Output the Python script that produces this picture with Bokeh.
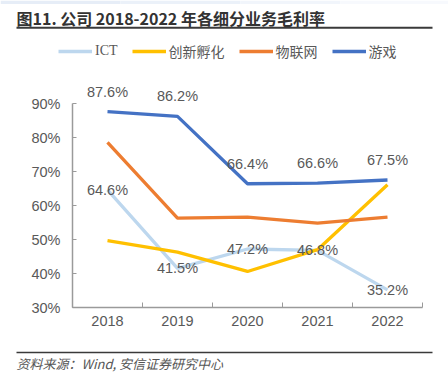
from bokeh.plotting import figure
from bokeh.models import (ColumnDataSource, LabelSet, Label, Range1d, FixedTicker,
                          PrintfTickFormatter, Legend, LegendItem, BoxAnnotation)
from bokeh.core.properties import value
from bokeh.embed import file_html
from bokeh.resources import INLINE

years = ["2018", "2019", "2020", "2021", "2022"]
ict = [64.6, 41.5, 47.2, 46.8, 35.2]
incubation = [49.7, 46.3, 40.6, 47.0, 66.1]
iot = [78.6, 56.3, 56.6, 54.8, 56.6]
games = [87.6, 86.2, 66.4, 66.6, 67.5]
y_ticks = [30, 40, 50, 60, 70, 80, 90]

series_names = ["ICT", "创新孵化", "物联网", "游戏"]
series_values = [ict, incubation, iot, games]
colors = ["#BDD7EE", "#FFC000", "#ED7D31", "#4472C4"]

title_text = "图11. 公司 2018-2022 年各细分业务毛利率"
source_text = "资料来源：Wind, 安信证券研究中心"

W, H = 448, 377
axis_col = "#9A9A9A"
lab_col = "#595959"
num_font = "Liberation Sans"
line_w = 3.3

# plot-area geometry in page pixels
ax_left, ax_right, ax_top, ax_bottom = 72, 422, 103, 307
n = len(years)
px_x = (ax_right - ax_left) / n
px_y = (ax_bottom - ax_top) / (y_ticks[-1] - y_ticks[0])

x_range = Range1d(-ax_left / px_x, n + (W - ax_right) / px_x)
y_range = Range1d(y_ticks[0] - (H - ax_bottom) / px_y, y_ticks[-1] + ax_top / px_y)

p = figure(width=W, height=H, output_backend="svg", toolbar_location=None,
           x_range=x_range, y_range=y_range, min_border=0)
p.outline_line_color = None
p.xgrid.grid_line_color = None
p.ygrid.grid_line_color = None

xpos = [i + 0.5 for i in range(n)]

p.xaxis.fixed_location = y_ticks[0]
p.xaxis.bounds = (0, n)
p.xaxis.ticker = FixedTicker(ticks=xpos, minor_ticks=list(range(n + 1)))
p.xaxis.major_label_overrides = {x: y for x, y in zip(xpos, years)}
p.xaxis.major_tick_in = 0
p.xaxis.major_tick_out = 0
p.xaxis.minor_tick_in = 5
p.xaxis.minor_tick_out = 0
p.xaxis.minor_tick_line_color = axis_col
p.xaxis.axis_line_color = axis_col
p.xaxis.axis_line_width = 1.5
p.xaxis.major_label_text_font = num_font
p.xaxis.major_label_text_font_size = "14.5px"
p.xaxis.major_label_text_color = lab_col
p.xaxis.major_label_standoff = 8

p.yaxis.fixed_location = 0
p.yaxis.bounds = (y_ticks[0], y_ticks[-1])
p.yaxis.ticker = FixedTicker(ticks=y_ticks, minor_ticks=[])
p.yaxis.formatter = PrintfTickFormatter(format="%d%%")
p.yaxis.major_tick_in = 4
p.yaxis.major_tick_out = 0
p.yaxis.major_tick_line_color = axis_col
p.yaxis.axis_line_color = axis_col
p.yaxis.axis_line_width = 1.5
p.yaxis.major_label_text_font = num_font
p.yaxis.major_label_text_font_size = "14.5px"
p.yaxis.major_label_text_color = lab_col
p.yaxis.major_label_standoff = 12

items = []
for name, vals, col in zip(series_names, series_values, colors):
    src = ColumnDataSource(dict(x=xpos, y=vals))
    r = p.line("x", "y", source=src, line_color=col, line_width=line_w)
    items.append(LegendItem(label=name, renderers=[r]))

lab_ict = ColumnDataSource(dict(x=xpos, y=ict, t=[f"{v:.1f}%" for v in ict]))
lab_games = ColumnDataSource(dict(x=xpos, y=games, t=[f"{v:.1f}%" for v in games]))
for src, off in [(lab_ict, 0), (lab_games, 20)]:
    p.add_layout(LabelSet(x="x", y="y", text="t", source=src, y_offset=off,
                          text_align="center", text_baseline="middle",
                          text_font=value(num_font), text_font_size="14.5px",
                          text_color=lab_col))

legend = Legend(items=items, orientation="horizontal", location=(58, H - 61),
                glyph_width=34, glyph_height=18, label_standoff=3, spacing=14,
                padding=0, margin=0, border_line_color=None,
                background_fill_alpha=0,
                label_text_font="'Liberation Serif', 'Noto Sans CJK SC'",
                label_text_font_size="14px", label_text_color=lab_col,
                label_height=18)
p.add_layout(legend, "center")

# top faint band
for x0, x1, c in [(0, 120, "#E6EDF7"), (120, 240, "#EBF1F9"), (240, 340, "#F1F5FB"),
                  (340, 448, "#F7F9FD")]:
    p.add_layout(BoxAnnotation(left=x0, right=x1, top=H, bottom=H - 3.5,
                               left_units="screen", right_units="screen",
                               top_units="screen", bottom_units="screen",
                               fill_color=c, fill_alpha=1, line_color=None,
                               level="underlay"))

p.add_layout(Label(x=16, y=H - 17, x_units="screen", y_units="screen",
                   text=title_text, text_font="Noto Sans CJK SC",
                   text_font_style="bold", text_font_size="16px",
                   text_color="#333333", text_baseline="middle"))
for top_px, bot_px in [(26.3, 28.3), (351.3, 352.8)]:
    p.add_layout(BoxAnnotation(left=16, right=432, top=H - top_px, bottom=H - bot_px,
                               left_units="screen", right_units="screen",
                               top_units="screen", bottom_units="screen",
                               fill_color="#3A3A3A", fill_alpha=1, line_color=None))
p.add_layout(Label(x=16, y=H - 362.7, x_units="screen", y_units="screen",
                   text=source_text, text_font="Noto Sans CJK SC",
                   text_font_style="italic", text_font_size="13px",
                   text_color="#555555", text_baseline="middle"))

open("out.html", "w").write(file_html(p, INLINE))
